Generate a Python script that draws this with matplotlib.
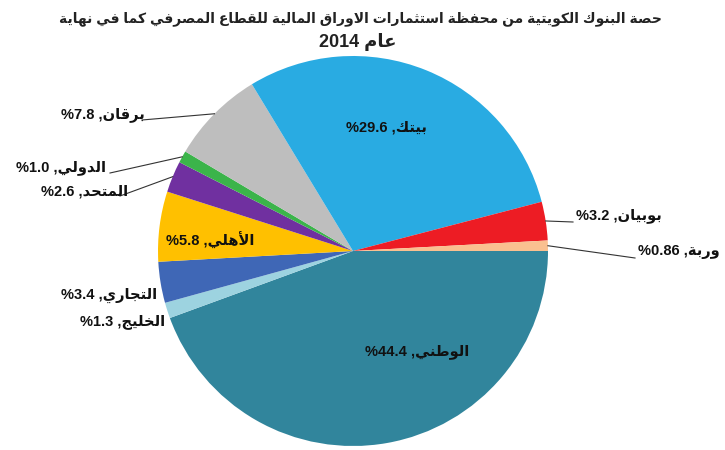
import matplotlib
matplotlib.use('Agg')
import matplotlib.pyplot as plt
import numpy as np

# ---------------- data ----------------
banks = ["الوطني", "الخليج", "التجاري", "الأهلي", "المتحد", "الدولي",
         "برقان", "بيتك", "بوبيان", "وربة"]
shares = [44.4, 1.3, 3.4, 5.8, 2.6, 1.0, 7.8, 29.6, 3.2, 0.86]
share_text = ["44.4", "1.3", "3.4", "5.8", "2.6", "1.0", "7.8", "29.6", "3.2", "0.86"]
colors = ["#31859C", "#9DD3E0", "#3F67B6", "#FFC000", "#7030A0", "#3BB44A",
          "#BEBEBE", "#29ABE2", "#ED1C24", "#FAC090"]
title_line1 = "حصة البنوك الكويتية من محفظة استثمارات الاوراق المالية للقطاع المصرفي كما في نهاية"
title_line2 = "عام 2014"

# ------------- minimal Arabic shaping (presentation forms) -------------
FORMS = {
    '\u0627': ('\uFE8D', '\uFE8E', None, None),
    '\u0623': ('\uFE83', '\uFE84', None, None),
    '\u0628': ('\uFE8F', '\uFE90', '\uFE91', '\uFE92'),
    '\u0629': ('\uFE93', '\uFE94', None, None),
    '\u062A': ('\uFE95', '\uFE96', '\uFE97', '\uFE98'),
    '\u062B': ('\uFE99', '\uFE9A', '\uFE9B', '\uFE9C'),
    '\u062C': ('\uFE9D', '\uFE9E', '\uFE9F', '\uFEA0'),
    '\u062D': ('\uFEA1', '\uFEA2', '\uFEA3', '\uFEA4'),
    '\u062E': ('\uFEA5', '\uFEA6', '\uFEA7', '\uFEA8'),
    '\u062F': ('\uFEA9', '\uFEAA', None, None),
    '\u0631': ('\uFEAD', '\uFEAE', None, None),
    '\u0633': ('\uFEB1', '\uFEB2', '\uFEB3', '\uFEB4'),
    '\u0635': ('\uFEB9', '\uFEBA', '\uFEBB', '\uFEBC'),
    '\u0637': ('\uFEC1', '\uFEC2', '\uFEC3', '\uFEC4'),
    '\u0638': ('\uFEC5', '\uFEC6', '\uFEC7', '\uFEC8'),
    '\u0639': ('\uFEC9', '\uFECA', '\uFECB', '\uFECC'),
    '\u0641': ('\uFED1', '\uFED2', '\uFED3', '\uFED4'),
    '\u0642': ('\uFED5', '\uFED6', '\uFED7', '\uFED8'),
    '\u0643': ('\uFED9', '\uFEDA', '\uFEDB', '\uFEDC'),
    '\u0644': ('\uFEDD', '\uFEDE', '\uFEDF', '\uFEE0'),
    '\u0645': ('\uFEE1', '\uFEE2', '\uFEE3', '\uFEE4'),
    '\u0646': ('\uFEE5', '\uFEE6', '\uFEE7', '\uFEE8'),
    '\u0647': ('\uFEE9', '\uFEEA', '\uFEEB', '\uFEEC'),
    '\u0648': ('\uFEED', '\uFEEE', None, None),
    '\u064A': ('\uFEF1', '\uFEF2', '\uFEF3', '\uFEF4'),
}
LAMALEF = {'\u0627': ('\uFEFB', '\uFEFC', None, None),
           '\u0623': ('\uFEF7', '\uFEF8', None, None)}


def shape_word(w):
    units = []
    i = 0
    while i < len(w):
        c = w[i]
        if c == '\u0644' and i + 1 < len(w) and w[i + 1] in LAMALEF:
            units.append(LAMALEF[w[i + 1]])
            i += 2
        else:
            units.append(FORMS.get(c, c))
            i += 1
    out = []
    for k, f in enumerate(units):
        if isinstance(f, str):
            out.append(f)
            continue
        prev = units[k - 1] if k > 0 else None
        nxt = units[k + 1] if k + 1 < len(units) else None
        jp = isinstance(prev, tuple) and prev[2] is not None
        jn = f[2] is not None and isinstance(nxt, tuple)
        if jp and jn:
            out.append(f[3])
        elif jp:
            out.append(f[1])
        elif jn:
            out.append(f[2])
        else:
            out.append(f[0])
    return ''.join(out)


def is_arabic(w):
    return any('\u0600' <= ch <= '\u06FF' for ch in w)


def visual(s):
    words = s.split(' ')
    return ' '.join(shape_word(w)[::-1] if is_arabic(w) else w
                    for w in reversed(words))


def label_text(name, val):
    return "%" + val + " ," + shape_word(name)[::-1]


# ---------------- figure ----------------
W, H = 725, 450
fig = plt.figure(figsize=(W / 100, H / 100), dpi=100)
ax = fig.add_axes([0, 0, 1, 1])
FONT = ['Liberation Sans', 'DejaVu Sans']

cx, cy, R = 353, H - 251, 195
wedges, _ = ax.pie(shares, colors=colors, startangle=0, counterclock=False,
                   center=(cx, cy), radius=R,
                   wedgeprops=dict(linewidth=0))
ax.set_xlim(0, W)
ax.set_ylim(0, H)
ax.set_aspect('equal', adjustable='box')
ax.axis('off')


def P(px, py):
    return px, H - py


# title
ax.text(*P(360, 19), visual(title_line1), ha='center', va='center',
        fontsize=10, fontweight='bold', family=FONT, color='#222222')
ax.text(*P(358, 42), visual(title_line2), ha='center', va='center',
        fontsize=13, fontweight='bold', family=FONT, color='#222222')

# label placement: (x, y, ha, line_end or None)
place = {
    0: (417, 352, 'center', None),
    1: (165, 322, 'right', None),
    2: (157, 295, 'right', None),
    3: (210, 240, 'center', None),
    4: (128, 192, 'right', (120, 196)),
    5: (106, 168, 'right', (110, 173)),
    6: (145, 115, 'right', (142, 120)),
    7: (386, 128, 'center', None),
    8: (576, 216, 'left', (573, 222)),
    9: (638, 252, 'left', (635, 258)),
}

for i, wdg in enumerate(wedges):
    x, y, ha, lend = place[i]
    ax.text(*P(x, y), label_text(banks[i], share_text[i]), ha=ha, va='center',
            fontsize=10.5, fontweight='bold', family=FONT, color='#111111')
    if lend is not None:
        mid = np.deg2rad((wdg.theta1 + wdg.theta2) / 2)
        ex, ey = cx + R * np.cos(mid), cy + R * np.sin(mid)
        ax.plot([ex, lend[0]], [ey, H - lend[1]], color='#333333', lw=0.8)

fig.savefig('out.png', dpi=100)
